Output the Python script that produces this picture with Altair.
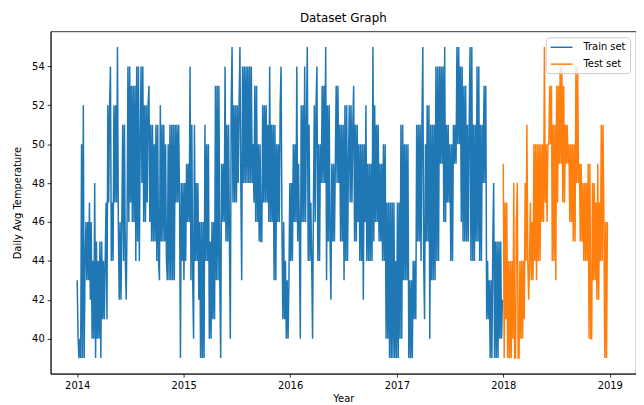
import altair as alt
import pandas as pd

# Daily average temperature, every 3 days
train_start = "2014-01-01"
test_start = "2018-01-01"
step_days = 3

train_vals = [
    43, 40, 39, 40, 39, 50, 39, 52, 39, 44,
    46, 43, 46, 43, 47, 42, 46, 40, 44, 40,
    48, 39, 45, 40, 44, 40, 45, 39, 45, 41,
    44, 41, 44, 47, 41, 52, 47, 52, 54, 44,
    47, 44, 52, 47, 52, 47, 55, 46, 42, 46,
    42, 46, 51, 44, 51, 44, 42, 46, 54, 46,
    54, 47, 53, 46, 53, 46, 53, 44, 54, 45,
    54, 44, 50, 54, 48, 54, 46, 52, 46, 52,
    47, 52, 53, 46, 51, 45, 51, 45, 50, 45,
    51, 44, 51, 44, 43, 52, 45, 51, 45, 51,
    45, 50, 44, 43, 50, 43, 51, 43, 51, 43,
    51, 43, 51, 47, 51, 47, 51, 47, 39, 48,
    44, 48, 43, 48, 44, 49, 46, 49, 46, 54,
    43, 51, 43, 40, 51, 44, 48, 44, 48, 42,
    46, 39, 46, 39, 46, 39, 51, 44, 50, 44,
    50, 40, 45, 40, 46, 41, 46, 41, 53, 43,
    53, 43, 53, 43, 39, 49, 46, 49, 46, 54,
    45, 51, 45, 51, 45, 40, 52, 55, 47, 52,
    47, 52, 47, 52, 48, 52, 55, 48, 43, 54,
    48, 54, 48, 54, 48, 54, 48, 54, 48, 54,
    48, 50, 47, 53, 46, 53, 46, 50, 45, 50,
    45, 45, 52, 47, 52, 47, 52, 47, 51, 46,
    54, 46, 51, 46, 51, 43, 51, 43, 50, 46,
    50, 46, 52, 54, 46, 41, 46, 41, 44, 40,
    43, 40, 43, 48, 44, 48, 44, 50, 46, 50,
    46, 54, 45, 49, 45, 40, 52, 46, 52, 46,
    54, 46, 51, 55, 44, 51, 44, 47, 44, 40,
    47, 52, 46, 52, 54, 44, 50, 44, 50, 48,
    53, 48, 53, 48, 55, 43, 52, 45, 52, 45,
    42, 49, 45, 49, 45, 49, 53, 48, 53, 48,
    51, 45, 51, 45, 51, 43, 52, 44, 52, 44,
    49, 52, 47, 52, 47, 51, 53, 45, 51, 45,
    51, 46, 50, 44, 50, 44, 50, 42, 50, 46,
    52, 44, 49, 44, 49, 44, 49, 44, 55, 45,
    52, 46, 51, 46, 51, 45, 49, 45, 49, 44,
    50, 44, 50, 40, 47, 40, 47, 39, 47, 39,
    47, 39, 47, 39, 44, 39, 47, 39, 47, 40,
    51, 40, 51, 43, 50, 43, 50, 43, 50, 39,
    43, 39, 43, 39, 44, 41, 44, 41, 51, 45,
    51, 45, 51, 44, 51, 55, 44, 41, 50, 45,
    52, 45, 52, 40, 51, 43, 51, 43, 51, 43,
    54, 44, 54, 44, 54, 49, 54, 49, 54, 46,
    55, 46, 51, 47, 51, 47, 50, 44, 50, 44,
    51, 49, 51, 49, 55, 50, 55, 50, 54, 46,
    54, 45, 53, 45, 53, 45, 51, 45, 51, 55,
    44, 55, 44, 51, 44, 51, 45, 54, 45, 54,
    44, 51, 44, 51, 48, 53, 48, 53, 41, 44,
    41, 43, 39, 43, 39, 45, 48, 39, 45, 39,
    45, 39, 45, 40, 45, 40, 42,
]

test_vals = [
    49, 39, 47, 41, 47, 39, 44, 39, 44, 39,
    44, 40, 48, 39, 39, 46, 48, 39, 39, 44,
    40, 44, 40, 44, 41, 48, 44, 51, 44, 42,
    44, 47, 43, 46, 43, 50, 44, 50, 43, 50,
    44, 50, 44, 50, 46, 50, 46, 55, 47, 50,
    46, 50, 50, 53, 50, 53, 44, 51, 44, 51,
    43, 53, 47, 53, 49, 54, 49, 54, 47, 53,
    47, 51, 49, 51, 49, 50, 46, 50, 46, 50,
    45, 50, 45, 54, 48, 54, 48, 49, 45, 49,
    45, 48, 44, 48, 44, 48, 44, 49, 40, 49,
    40, 40, 48, 43, 48, 43, 47, 42, 49, 42,
    47, 44, 51, 44, 51, 46, 39, 46, 39, 46,
]

series_names = ["Train set", "Test set"]
series_colors = ["#1f77b4", "#ff7f0e"]
year_ticks = [2014, 2015, 2016, 2017, 2018, 2019]
temp_ticks = [40, 42, 44, 46, 48, 50, 52, 54]

train_df = pd.DataFrame({
    "date": pd.date_range(train_start, periods=len(train_vals), freq=f"{step_days}D").strftime("%Y-%m-%dT00:00:00"),
    "temp": train_vals,
    "set": series_names[0],
})
test_df = pd.DataFrame({
    "date": pd.date_range(test_start, periods=len(test_vals), freq=f"{step_days}D").strftime("%Y-%m-%dT00:00:00"),
    "temp": test_vals,
    "set": series_names[1],
})
df = pd.concat([train_df, test_df], ignore_index=True)

font = "DejaVu Sans"

chart = alt.Chart(df).mark_line(strokeWidth=1.5).encode(
    x=alt.X(
        "date:T",
        title="Year",
        scale=alt.Scale(
            domain=[alt.DateTime(year=2013, month=10, date=2), alt.DateTime(year=2019, month=4, date=1)],
            nice=False,
        ),
        axis=alt.Axis(
            values=[alt.DateTime(year=y, month=1, date=1) for y in year_ticks],
            format="%Y",
            grid=False,
            tickSize=3.5,
            labelPadding=3,
            titlePadding=4,
        ),
    ),
    y=alt.Y(
        "temp:Q",
        title="Daily Avg Temperature",
        scale=alt.Scale(domain=[38.2, 55.8], nice=False, zero=False),
        axis=alt.Axis(values=temp_ticks, grid=False, tickSize=3.5, labelPadding=3, titlePadding=9),
    ),
    color=alt.Color(
        "set:N",
        sort=series_names,
        scale=alt.Scale(domain=series_names, range=series_colors),
        legend=alt.Legend(
            title=None,
            orient="top-right",
            offset=6,
            symbolType="M-1,0H3.4",
            symbolSize=100,
            symbolStrokeWidth=1.5,
            symbolFillColor="transparent",
            labelOffset=22,
            strokeColor="#cccccc",
            fillColor="rgba(255,255,255,0.8)",
            cornerRadius=3,
            padding=4,
            labelFontSize=10,
            labelFont=font,
            labelColor="black",
            rowPadding=6,
        ),
    ),
).properties(
    width=590,
    height=345,
    title=alt.TitleParams("Dataset Graph", fontSize=12, font=font, fontWeight="normal", offset=6, color="black"),
    autosize=alt.AutoSizeParams(type="none"),
    padding={"left": 43, "top": 22, "right": 0, "bottom": 32},
).configure_view(
    stroke="black", strokeWidth=0.8
).configure_axis(
    labelFont=font, titleFont=font, labelFontSize=10, titleFontSize=10,
    titleFontWeight="normal", labelColor="black", titleColor="black",
    domainColor="black", tickColor="black", domainWidth=0.8, tickWidth=0.8,
)

chart.save("out.html", embed_options={"renderer": "svg", "actions": False})
